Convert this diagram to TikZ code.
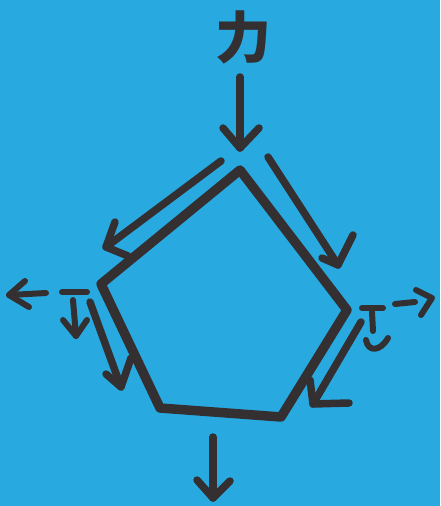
\documentclass[tikz,border=0pt]{standalone}
\usepackage{fontspec}
\newfontfamily\cjk{Noto Sans CJK JP}
\definecolor{paper}{RGB}{40,170,225}
\definecolor{ink}{RGB}{52,48,50}
\begin{document}
\begin{tikzpicture}[x=1pt,y=-1pt,
  inkline/.style={draw=ink,line width=9.5pt,line cap=round,line join=round},
  arrowline/.style={draw=ink,line width=7.5pt,line cap=round,line join=round},
  thinline/.style={draw=ink,line width=6pt,line cap=round,line join=round}]
\fill[paper] (0,0) rectangle (440,506);
\useasboundingbox (0,0) rectangle (440,506);
% force label
\node[text=ink,font=\cjk\bfseries\fontsize{56}{56}\selectfont] (force) at (243,37) {力};
% pentagon
\coordinate (pT) at (240,170);
\coordinate (pR) at (347,310);
\coordinate (pBR) at (281,417);
\coordinate (pBL) at (160,408);
\coordinate (pL) at (101,284);
\draw[inkline] (pT) -- (pR) -- (pBR) -- (pBL) -- (pL) -- cycle;
% top arrow
\coordinate (a1s) at (240,77); \coordinate (a1e) at (240,148);
\draw[arrowline] (a1s) -- (a1e);
\draw[arrowline] (223,128) -- (a1e) -- (259,128);
% upper-left arrow
\coordinate (a2s) at (221,161); \coordinate (a2e) at (106,247);
\draw[arrowline] (a2s) -- (a2e);
\draw[arrowline] (115,222) -- (a2e) -- (128,256);
% upper-right arrow
\coordinate (a3s) at (268,157); \coordinate (a3e) at (338,265);
\draw[arrowline] (a3s) -- (a3e);
\draw[arrowline] (353,235) -- (a3e) -- (322,258);
% lower-left arrow
\coordinate (a4s) at (90,302); \coordinate (a4e) at (121,387);
\draw[arrowline] (a4s) -- (a4e);
\draw[arrowline] (106,374) -- (a4e) -- (131,358);
% lower-right arrow
\coordinate (a5s) at (361,322); \coordinate (a5e) at (313,404);
\draw[arrowline] (a5s) -- (a5e);
\draw[arrowline] (310,380) -- (a5e) -- (349,403);
% bottom arrow
\coordinate (a6s) at (213,437); \coordinate (a6e) at (213,498);
\draw[arrowline] (a6s) -- (a6e);
\draw[arrowline] (197,480) -- (a6e) -- (230,481);
% left arrow
\coordinate (a7s) at (46,293); \coordinate (a7e) at (9,295);
\draw[thinline] (a7s) -- (a7e);
\draw[thinline] (25,281) -- (a7e) -- (29,307);
% right arrow
\coordinate (a8s) at (395,304); \coordinate (a8e) at (432,298);
\draw[thinline] (a8s) -- (415,302);
\draw[thinline] (416,290) -- (a8e) -- (421,315);
% left small symbol
\coordinate (s1t) at (73,300); \coordinate (s1b) at (76,336);
\draw[thinline] (62,292) -- (87,292);
\draw[thinline] (s1t) -- (s1b);
\draw[thinline] (63,320) -- (s1b) -- (87,320);
% right small symbol
\coordinate (s2t) at (372,312); \coordinate (s2b) at (373,331);
\draw[thinline] (362,308) -- (383,308);
\draw[thinline] (s2t) -- (s2b);
\draw[thinline] (366,340) .. controls (368,352) and (380,352) .. (388,338);
\end{tikzpicture}
\end{document}
